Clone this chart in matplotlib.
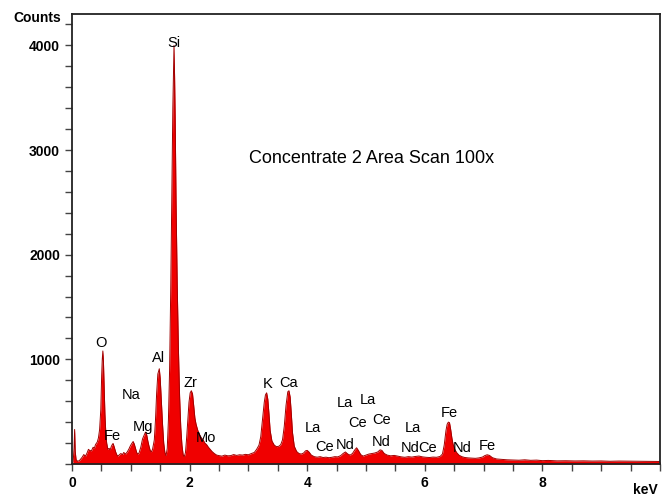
import matplotlib.pyplot as plt
from matplotlib.ticker import MultipleLocator

plt.rcParams['font.family'] = ['Liberation Sans', 'DejaVu Sans']

# spectrum outline traced channel by channel (keV, counts)
energy = [0.00, 0.02, 0.035, 0.045, 0.055, 0.07, 0.10, 0.13, 0.16, 0.18, 0.20, 0.23,
          0.26, 0.28, 0.30, 0.33, 0.36, 0.38, 0.40, 0.43, 0.45, 0.47, 0.49, 0.505,
          0.515, 0.525, 0.535, 0.545, 0.56, 0.575, 0.59, 0.61, 0.63, 0.65, 0.67, 0.69,
          0.70, 0.72, 0.74, 0.76, 0.78, 0.80, 0.83, 0.86, 0.88, 0.91, 0.94, 0.97,
          0.99, 1.01, 1.04, 1.06, 1.08, 1.10, 1.12, 1.14, 1.17, 1.20, 1.23, 1.25,
          1.27, 1.29, 1.31, 1.33, 1.35, 1.37, 1.40, 1.42, 1.44, 1.46, 1.485, 1.50,
          1.52, 1.54, 1.56, 1.58, 1.60, 1.62, 1.64, 1.66, 1.68, 1.70, 1.715, 1.725,
          1.735, 1.745, 1.755, 1.77, 1.79, 1.81, 1.83, 1.85, 1.87, 1.89, 1.91, 1.93,
          1.95, 1.97, 1.99, 2.01, 2.03, 2.05, 2.07, 2.09, 2.11, 2.14, 2.17, 2.20,
          2.23, 2.26, 2.29, 2.32, 2.35, 2.38, 2.42, 2.46, 2.50, 2.55, 2.60, 2.65,
          2.70, 2.75, 2.80, 2.85, 2.90, 2.95, 3.00, 3.05, 3.10, 3.14, 3.18, 3.21,
          3.24, 3.27, 3.29, 3.31, 3.33, 3.35, 3.37, 3.40, 3.44, 3.48, 3.52, 3.55,
          3.58, 3.61, 3.64, 3.67, 3.69, 3.71, 3.73, 3.75, 3.78, 3.82, 3.86, 3.90,
          3.94, 3.97, 4.00, 4.03, 4.07, 4.12, 4.17, 4.22, 4.27, 4.32, 4.37, 4.42,
          4.47, 4.52, 4.57, 4.61, 4.65, 4.69, 4.73, 4.77, 4.81, 4.84, 4.87, 4.91,
          4.95, 5.00, 5.05, 5.10, 5.15, 5.20, 5.24, 5.27, 5.31, 5.36, 5.42, 5.48,
          5.54, 5.60, 5.66, 5.72, 5.78, 5.84, 5.90, 5.96, 6.02, 6.08, 6.14, 6.20,
          6.26, 6.30, 6.33, 6.36, 6.38, 6.40, 6.42, 6.44, 6.46, 6.48, 6.51, 6.54,
          6.58, 6.63, 6.68, 6.74, 6.80, 6.86, 6.92, 6.98, 7.02, 7.06, 7.10, 7.15,
          7.22, 7.30, 7.40, 7.50, 7.60, 7.70, 7.80, 7.90, 8.00, 8.10, 8.25, 8.40,
          8.55, 8.70, 8.85, 9.00, 9.15, 9.30, 9.45, 9.60, 9.75, 9.90, 10.0]
counts = [0, 20, 150, 330, 120, 40, 25, 35, 55, 70, 90, 75,
          110, 140, 130, 125, 160, 150, 185, 210, 250, 330, 520, 850,
          1000, 1080, 980, 780, 480, 300, 200, 140, 150, 135, 170, 190,
          195, 160, 120, 90, 75, 85, 100, 90, 110, 95, 115, 145,
          170, 190, 215, 190, 150, 110, 95, 105, 160, 240, 280, 305,
          280, 220, 170, 130, 115, 140, 230, 420, 680, 860, 910, 820,
          600, 380, 200, 110, 80, 150, 420, 900, 1700, 2700, 3400, 3720,
          4000, 3700, 3300, 2500, 1700, 1100, 650, 350, 180, 90, 70, 110,
          250, 420, 590, 680, 700, 670, 560, 440, 380, 320, 280, 250,
          230, 200, 185, 160, 140, 120, 100, 85, 80, 75, 85, 78,
          80, 90, 82, 88, 85, 92, 88, 100, 110, 140, 180, 260,
          420, 590, 660, 680, 620, 480, 320, 220, 180, 165, 170, 185,
          230, 360, 560, 690, 700, 640, 480, 300, 170, 120, 100, 95,
          105, 125, 130, 115, 85, 70, 65, 70, 62, 65, 60, 64,
          70, 68, 80, 100, 115, 95, 85, 100, 135, 155, 130, 90,
          75, 85, 95, 100, 105, 115, 135, 130, 100, 85, 78, 82,
          75, 68, 64, 70, 66, 72, 76, 68, 64, 62, 66, 64,
          72, 95, 180, 320, 380, 400, 395, 330, 250, 190, 140, 110,
          85, 70, 62, 58, 56, 54, 58, 66, 80, 88, 82, 60,
          48, 44, 40, 38, 36, 40, 35, 37, 32, 34, 30, 31,
          29, 30, 28, 29, 26, 28, 27, 25, 26, 24, 24]

# element markers (label, keV, counts)
peak_names = ['Si', 'O', 'Na', 'Al', 'Mg', 'Fe', 'Zr', 'Mo', 'K', 'Ca',
              'La', 'Ce', 'Nd', 'La', 'La', 'Ce', 'Ce', 'Nd',
              'La', 'Nd', 'Ce', 'Fe', 'Nd', 'Fe']
peak_x = [1.73, 0.49, 1.00, 1.48, 1.21, 0.68, 2.02, 2.28, 3.32, 3.69,
          4.10, 4.29, 4.64, 4.64, 5.03, 4.85, 5.26, 5.26,
          5.80, 5.75, 6.05, 6.41, 6.63, 7.07]
peak_y = [4020, 1160, 657, 1009, 352, 267, 771, 248, 762, 771,
          343, 162, 181, 581, 609, 390, 419, 209,
          343, 152, 152, 486, 152, 171]

fig = plt.figure(figsize=(6.64, 4.98), dpi=100)
ax = fig.add_axes([0.1084, 0.0683, 0.8856, 0.9036])

ax.fill_between(energy, counts, 0, color='#f00000', lw=0)
ax.plot(energy, counts, color='#a00000', lw=0.7)

for name, x, y in zip(peak_names, peak_x, peak_y):
    ax.text(x, y, name, ha='center', va='center', fontsize=10.5)

ax.text(5.10, 2920, 'Concentrate 2 Area Scan 100x', ha='center', va='center', fontsize=13)

ax.set_xlim(0, 10)
ax.set_ylim(0, 4300)
ax.set_xticks([0, 2, 4, 6, 8])
ax.xaxis.set_minor_locator(MultipleLocator(0.5))
ax.set_yticks([1000, 2000, 3000, 4000])
ax.yaxis.set_minor_locator(MultipleLocator(200))
ax.tick_params(which='both', direction='out', length=5, width=1, color='#444444',
               labelsize=10)
for lab in ax.get_xticklabels() + ax.get_yticklabels():
    lab.set_fontweight('bold')
for s in ax.spines.values():
    s.set_linewidth(1.3)
    s.set_color('#222222')

fig.text(37 / 664, 1 - 18 / 498, 'Counts', ha='center', va='center',
         fontsize=10, fontweight='bold')
fig.text(645 / 664, 1 - 490 / 498, 'keV', ha='center', va='center',
         fontsize=10, fontweight='bold')

fig.savefig('out.png', dpi=100)
